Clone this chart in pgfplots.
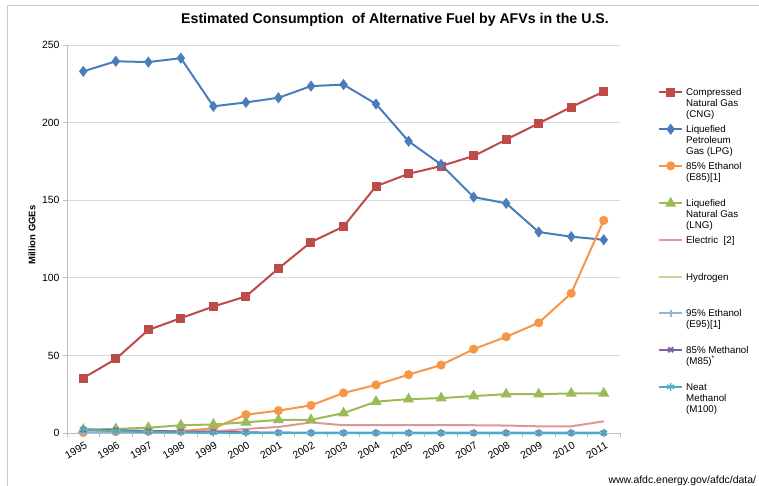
\documentclass[border=0pt]{standalone}
\usepackage{pgfplots}
\pgfplotsset{compat=1.18}
\usepackage{fontspec}
\setmainfont{Liberation Sans}

\definecolor{cng}{RGB}{190,75,72}
\definecolor{lpg}{RGB}{74,126,187}
\definecolor{efs}{RGB}{247,150,70}
\definecolor{lng}{RGB}{155,187,89}
\definecolor{elec}{RGB}{222,150,150}
\definecolor{hyd}{RGB}{195,214,155}
\definecolor{enf}{RGB}{149,179,215}
\definecolor{mef}{RGB}{128,100,162}
\definecolor{mhu}{RGB}{75,172,198}
\definecolor{gridc}{RGB}{217,217,217}
\definecolor{axc}{RGB}{190,190,190}

% legend text: block of lines, first line level with the line sample
\newcommand{\lgd}[1]{\raisebox{-3.5bp}{\parbox[t]{74bp}{\raggedright #1}}}

\begin{document}
\begin{tikzpicture}
\useasboundingbox (0,0) rectangle (759bp,486bp);
\draw[axc!80] (7bp,-10bp) rectangle (800bp,481bp);

\node[font=\bfseries\fontsize{14.2}{16}\selectfont] at (395bp,466bp)
  {Estimated Consumption\ \ of Alternative Fuel by AFVs in the U.S.};
\node[anchor=base west, font=\fontsize{10.5}{12}\selectfont] at (605bp,2.5bp)
  {www.afdc.energy.gov/afdc/data/};

\begin{axis}[
  at={(67bp,53bp)}, anchor=south west,
  scale only axis, width=553bp, height=388bp,
  xmin=1994.5, xmax=2011.5, ymin=0, ymax=250,
  axis x line*=bottom, axis y line*=left,
  axis line style={draw=axc, line width=0.8bp},
  xtick={1995,1996,...,2011},
  minor xtick={1994.5,1995.5,...,2011.5},
  ytick={0,50,...,250},
  tick align=outside,
  major tick length=4bp, minor tick length=4bp,
  major x tick style={draw=none},
  minor x tick style={draw=axc, line width=0.8bp},
  major y tick style={draw=axc, line width=0.8bp},
  ymajorgrids, grid style={draw=gridc, line width=0.8bp},
  tick label style={font=\fontsize{10.5}{12}\selectfont},
  /pgf/number format/assume math mode=true,
  /pgf/number format/1000 sep={},
  xticklabel style={rotate=30, anchor=north east, xshift=2bp, yshift=-1bp},
  ylabel={Million GGEs},
  ylabel style={font=\bfseries\fontsize{9.5}{11}\selectfont,
    at={(axis description cs:-0.0633,0.51)}, anchor=center},
  clip=false,
  legend style={at={(1.0687,0.888)}, anchor=north west, draw=none, fill=none,
    inner sep=0pt, row sep=0pt, column sep=3bp,
    font=\fontsize{9.8}{11}\selectfont,
    nodes={inner sep=0pt}, cells={anchor=base west}},
  % the invisible path gives every legend row the same height
  legend image code/.code={\path[draw=none,fill=none] (0bp,3.6bp) -- (0bp,-33bp);
    \draw[mark repeat=2,mark phase=2,#1]
    plot coordinates {(0bp,0bp) (11.5bp,0bp) (23bp,0bp)};},
]
\addplot[cng, line width=2bp, mark=square*, mark size=3.5bp] coordinates {
(1995,35.4) (1996,47.7) (1997,66.4) (1998,74) (1999,81.5) (2000,88) (2001,106)
(2002,123) (2003,133) (2004,159) (2005,167) (2006,172) (2007,178.5) (2008,189)
(2009,199.5) (2010,210) (2011,220)};
\addlegendentry{\lgd{Compressed\\Natural Gas\\(CNG)}}
\addplot[lpg, line width=2bp, mark=diamond*, mark size=4bp] coordinates {
(1995,233) (1996,239.5) (1997,239) (1998,241.5) (1999,210.5) (2000,213) (2001,216)
(2002,223.5) (2003,224.5) (2004,212) (2005,188) (2006,173) (2007,152) (2008,148)
(2009,129.5) (2010,126.5) (2011,124.5)};
\addlegendentry{\lgd{Liquefied\\Petroleum\\Gas (LPG)}}
\addplot[efs, line width=2bp, mark=*, mark size=3.5bp] coordinates {
(1995,0.3) (1996,0.8) (1997,1) (1998,1.2) (1999,3) (2000,11.8) (2001,14.4)
(2002,17.8) (2003,25.8) (2004,31) (2005,37.6) (2006,43.8) (2007,54) (2008,62)
(2009,71) (2010,90) (2011,137)};
\addlegendentry{\lgd{85\% Ethanol\\(E85)[1]}}
\addplot[lng, line width=2bp, mark=triangle*, mark size=4.5bp] coordinates {
(1995,2.2) (1996,2.6) (1997,3.4) (1998,5) (1999,5.5) (2000,6.9) (2001,8.4)
(2002,8.5) (2003,12.8) (2004,20.2) (2005,21.8) (2006,22.5) (2007,23.8) (2008,25)
(2009,25) (2010,25.5) (2011,25.6)};
\addlegendentry{\lgd{Liquefied\\Natural Gas\\(LNG)}}
\addplot[elec, line width=2bp] coordinates {
(1995,0.2) (1996,0.4) (1997,0.5) (1998,0.7) (1999,1) (2000,2.6) (2001,3.9)
(2002,6.8) (2003,5) (2004,5) (2005,5) (2006,5) (2007,5) (2008,4.8)
(2009,4.3) (2010,4.3) (2011,7.5)};
\addlegendentry{\lgd{Electric\ \ [2]}}
\addplot[hyd, line width=2bp] coordinates {
(1995,0) (1996,0) (1997,0) (1998,0) (1999,0) (2000,0) (2001,0) (2002,0) (2003,0)
(2004,0) (2005,0) (2006,0) (2007,0) (2008,0) (2009,0) (2010,0) (2011,0)};
\addlegendentry{\lgd{Hydrogen}}
\addplot[enf, line width=2bp, mark=+, mark size=3.5bp] coordinates {
(1995,0.2) (1996,0.2) (1997,0.2) (1998,0.2) (1999,0.1) (2000,0.1) (2001,0.1)
(2002,0.1) (2003,0.1) (2004,0.1) (2005,0.1) (2006,0.1) (2007,0.1) (2008,0.1)
(2009,0.1) (2010,0.1) (2011,0.1)};
\addlegendentry{\lgd{95\% Ethanol\\(E95)[1]}}
\addplot[mef, line width=2bp, mark=x, mark size=3.5bp] coordinates {
(1995,2.2) (1996,1.8) (1997,1.3) (1998,1) (1999,0.8) (2000,0.4) (2001,0.2)
(2002,0.1) (2003,0.05) (2004,0.05) (2005,0) (2006,0) (2007,0) (2008,0)
(2009,0) (2010,0) (2011,0)};
\addlegendentry{\lgd{85\% Methanol\\(M85)\textsuperscript{*}}}
\addplot[mhu, line width=2bp, mark=asterisk, mark size=4bp,
  mark options={line width=1.2bp}] coordinates {
(1995,2.5) (1996,1.2) (1997,0.6) (1998,0.4) (1999,0.2) (2000,0.1) (2001,0.1)
(2002,0) (2003,0) (2004,0) (2005,0) (2006,0) (2007,0) (2008,0)
(2009,0) (2010,0) (2011,0)};
\addlegendentry{\lgd{Neat\\Methanol\\(M100)}}
\end{axis}
\end{tikzpicture}
\end{document}
